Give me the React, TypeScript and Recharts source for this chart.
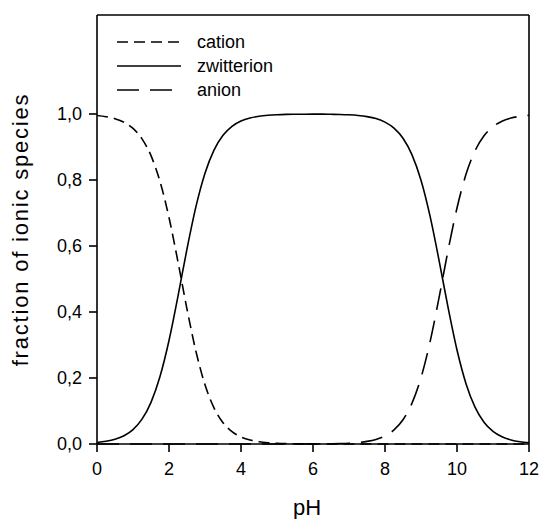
import {
  LineChart,
  Line,
  XAxis,
  YAxis,
  Legend,
  ReferenceLine,
} from "recharts";

const phValues = [
  0, 0.25, 0.5, 0.75, 1, 1.25, 1.5, 1.75, 2, 2.25, 2.5, 2.75, 3, 3.25, 3.5,
  3.75, 4, 4.25, 4.5, 4.75, 5, 5.25, 5.5, 5.75, 6, 6.25, 6.5, 6.75, 7, 7.25,
  7.5, 7.75, 8, 8.25, 8.5, 8.75, 9, 9.25, 9.5, 9.75, 10, 10.25, 10.5, 10.75,
  11, 11.25, 11.5, 11.75, 12,
];

const cation = [
  0.9955, 0.9919, 0.9858, 0.9749, 0.9563, 0.9248, 0.8737, 0.7955, 0.6863,
  0.5517, 0.4089, 0.2801, 0.1795, 0.1096, 0.0647, 0.0374, 0.0214, 0.0122,
  0.0069, 0.0039, 0.0022, 0.0012, 0.0007, 0.0004, 0.0002, 0.0001, 0.0001, 0,
  0, 0, 0, 0, 0, 0, 0, 0, 0, 0, 0, 0, 0, 0, 0, 0, 0, 0, 0, 0, 0,
];

const zwitterion = [
  0.0045, 0.0081, 0.0142, 0.0251, 0.0437, 0.0752, 0.1263, 0.2045, 0.3137,
  0.4483, 0.5911, 0.7199, 0.8205, 0.8904, 0.9353, 0.9626, 0.9786, 0.9878,
  0.9931, 0.9961, 0.9978, 0.9988, 0.9992, 0.9994, 0.9995, 0.9995, 0.9991,
  0.9986, 0.9975, 0.9956, 0.9921, 0.9861, 0.9755, 0.9572, 0.9264, 0.8762,
  0.7992, 0.6912, 0.5573, 0.4145, 0.2847, 0.1829, 0.1118, 0.0661, 0.0383,
  0.0219, 0.0124, 0.007, 0.004,
];

const anion = [
  0, 0, 0, 0, 0, 0, 0, 0, 0, 0, 0, 0, 0, 0, 0, 0, 0, 0, 0, 0, 0, 0, 0.0001,
  0.0002, 0.0003, 0.0004, 0.0008, 0.0014, 0.0025, 0.0044, 0.0079, 0.0139,
  0.0245, 0.0428, 0.0736, 0.1238, 0.2008, 0.3088, 0.4427, 0.5855, 0.7153,
  0.8171, 0.8882, 0.9339, 0.9617, 0.9781, 0.9876, 0.993, 0.996,
];

const xTicks = [0, 2, 4, 6, 8, 10, 12];
const yTicks = [0, 0.2, 0.4, 0.6, 0.8, 1.0];

const series = [
  { key: "cation", name: "cation", dash: "11 6" },
  { key: "zwitterion", name: "zwitterion", dash: undefined },
  { key: "anion", name: "anion", dash: "22 11" },
];

const data = phValues.map((ph, i) => ({
  ph,
  cation: cation[i],
  zwitterion: zwitterion[i],
  anion: anion[i],
}));

const font = "'Liberation Sans', Arial, sans-serif";

// legend drawn by hand, sits inside the plot top-left
const LegendBox = () => (
  <div style={{ fontFamily: font, fontSize: 18 }}>
    {series.map((s) => (
      <div
        key={s.key}
        style={{ display: "flex", alignItems: "center", height: 24 }}
      >
        <svg width={64} height={10} style={{ flexShrink: 0 }}>
          <line
            x1={0}
            y1={5}
            x2={64}
            y2={5}
            stroke="#000"
            strokeWidth={1.6}
            strokeDasharray={s.dash}
          />
        </svg>
        <span style={{ marginLeft: 16, color: "#000" }}>{s.name}</span>
      </div>
    ))}
  </div>
);

const fmt = (v: number) => v.toFixed(1).replace(".", ",");

export default function App() {
  return (
    <div style={{ position: "absolute", left: 0, top: 0, background: "#fff" }}>
      <LineChart
        width={541}
        height={519}
        data={data}
        margin={{ top: 15, right: 12, bottom: 0, left: 0 }}
      >
        <XAxis
          dataKey="ph"
          type="number"
          domain={[0, 12]}
          ticks={xTicks}
          height={75}
          tickSize={8}
          tickMargin={10}
          stroke="#000"
          strokeWidth={1.6}
          tick={{ fill: "#000", fontSize: 18, fontFamily: font }}
          label={{
            value: "pH",
            position: "insideBottom",
            offset: 4,
            dx: -6,
            style: { fill: "#000", fontSize: 22, fontFamily: font },
          }}
        />
        <YAxis
          type="number"
          domain={[0, 1.3]}
          ticks={yTicks}
          width={97}
          tickSize={8}
          tickMargin={7}
          tickFormatter={fmt}
          stroke="#000"
          strokeWidth={1.6}
          tick={{ fill: "#000", fontSize: 18, fontFamily: font }}
          label={{
            value: "fraction of ionic species",
            angle: -90,
            position: "insideLeft",
            offset: 20,
            style: {
              fill: "#000",
              fontSize: 22,
              fontFamily: font,
              textAnchor: "middle",
              letterSpacing: 1.8,
            },
          }}
        />
        <ReferenceLine y={1.3} stroke="#000" strokeWidth={1.6} />
        <ReferenceLine x={12} stroke="#000" strokeWidth={1.6} />
        <Legend
          layout="horizontal"
          align="center"
          verticalAlign="middle"
          content={() => <LegendBox />}
          wrapperStyle={{ left: 117, top: 30, width: 220 }}
        />
        {series.map((s) => (
          <Line
            key={s.key}
            dataKey={s.key}
            name={s.name}
            type="monotone"
            stroke="#000"
            strokeWidth={1.6}
            strokeDasharray={s.dash}
            dot={false}
            activeDot={false}
            isAnimationActive={false}
          />
        ))}
      </LineChart>
    </div>
  );
}
